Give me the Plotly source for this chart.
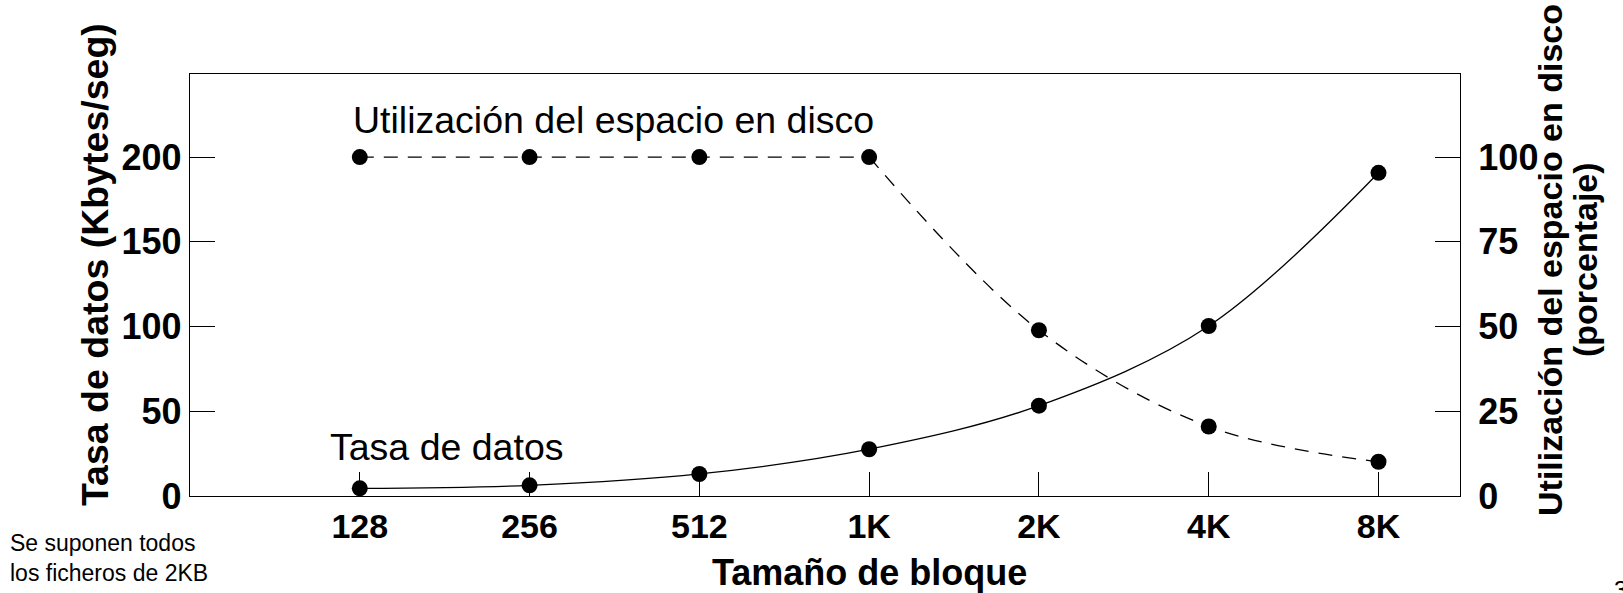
import plotly.graph_objects as go

# ---- data ----
block_sizes = ["128", "256", "512", "1K", "2K", "4K", "8K"]
data_rate = [4.5, 6.3, 13, 27.6, 53.3, 100.3, 190.7]          # Kbytes/seg (left axis)
disk_util = [100, 100, 100, 100, 48.9, 20.5, 10.1]            # percent (right axis)
left_ticks = [0, 50, 100, 150, 200]
right_ticks = [0, 25, 50, 75, 100]

FONT = "Liberation Sans, Arial, sans-serif"
W, H = 1623, 593
L, R, T, B = 190, 163, 74, 97
PW, PH = W - L - R, H - T - B

def px(x):
    return (x - L) / PW

def py(y):
    return (H - B - y) / PH

xs = list(range(len(block_sizes)))
DASH = "14px,10px"

fig = go.Figure()

# data rate (solid, smooth)
fig.add_trace(go.Scatter(
    x=xs, y=data_rate, mode="lines+markers", line=dict(color="black", width=1.3, shape="spline"),
    marker=dict(color="black", size=16), yaxis="y", showlegend=False, cliponaxis=False))

# disk utilization (dashed): flat part linear, falling part smooth
fig.add_trace(go.Scatter(
    x=xs[:4], y=disk_util[:4], mode="lines",
    line=dict(color="black", width=1.3, dash=DASH), yaxis="y2", showlegend=False))
fig.add_trace(go.Scatter(
    x=xs[3:], y=disk_util[3:], mode="lines",
    line=dict(color="black", width=1.3, dash=DASH, shape="spline"), yaxis="y2", showlegend=False))
fig.add_trace(go.Scatter(
    x=xs, y=disk_util, mode="markers", marker=dict(color="black", size=16),
    yaxis="y2", showlegend=False, cliponaxis=False))

ytickfont = dict(family=FONT, size=36, color="black", weight="bold")
xtickfont = dict(family=FONT, size=34, color="black", weight="bold")

fig.update_layout(
    width=W, height=H,
    margin=dict(l=L, r=R, t=T, b=B, pad=0),
    paper_bgcolor="white", plot_bgcolor="white",
    font=dict(family=FONT, color="black"),
    xaxis=dict(range=[-1.0, 6.48], tickmode="array", tickvals=xs, ticktext=block_sizes,
               ticks="inside", ticklen=24, tickwidth=1.2, tickcolor="black",
               showline=True, mirror=True, linecolor="black", linewidth=1.3,
               showgrid=False, zeroline=False, tickfont=xtickfont, ticklabelstandoff=0),
    yaxis=dict(range=[0, 249], tickmode="array", tickvals=left_ticks,
               ticks="inside", ticklen=25, tickwidth=1.2, tickcolor="black",
               showline=True, mirror=True, linecolor="black", linewidth=1.3,
               showgrid=False, zeroline=False, tickfont=ytickfont, ticklabelstandoff=0),
    yaxis2=dict(range=[0, 124.5], tickmode="array", tickvals=right_ticks, overlaying="y", side="right",
                ticks="inside", ticklen=25, tickwidth=1.2, tickcolor="black",
                showline=True, linecolor="black", linewidth=1.3,
                showgrid=False, zeroline=False, tickfont=ytickfont, ticklabelstandoff=10),
)

ann = []
ann.append(dict(text="Tasa de datos (Kbytes/seg)", x=px(95), y=py(265), textangle=-90,
                font=dict(family=FONT, size=37.5, weight="bold", color="black")))
ann.append(dict(text="Utilización del espacio en disco", x=px(1550), y=py(260), textangle=-90,
                font=dict(family=FONT, size=34, weight="bold", color="black")))
ann.append(dict(text="(porcentaje)", x=px(1585), y=py(260), textangle=-90,
                font=dict(family=FONT, size=34, weight="bold", color="black")))
ann.append(dict(text="Tamaño de bloque", x=px(869), y=py(572),
                font=dict(family=FONT, size=36, weight="bold", color="black")))
ann.append(dict(text="Utilización del espacio en disco", x=px(351), y=py(120), xanchor="left",
                font=dict(family=FONT, size=37.5, color="black")))
ann.append(dict(text="Tasa de datos", x=px(328), y=py(447), xanchor="left",
                font=dict(family=FONT, size=37.5, color="black")))
ann.append(dict(text="Se suponen todos<br>los ficheros de 2KB", x=px(8), y=py(557.5), xanchor="left", align="left",
                font=dict(family=FONT, size=23, color="black")))
ann.append(dict(text="3", x=px(1612), y=py(574), xanchor="left", yanchor="top",
                font=dict(family=FONT, size=24, color="black")))
for a in ann:
    a.update(xref="paper", yref="paper", showarrow=False)
    a.setdefault("xanchor", "center")
    a.setdefault("yanchor", "middle")
fig.update_layout(annotations=ann)

fig.write_html("out.html", config={"displayModeBar": False},
               post_script="document.body.style.margin='0px';document.body.style.overflow='hidden';")
